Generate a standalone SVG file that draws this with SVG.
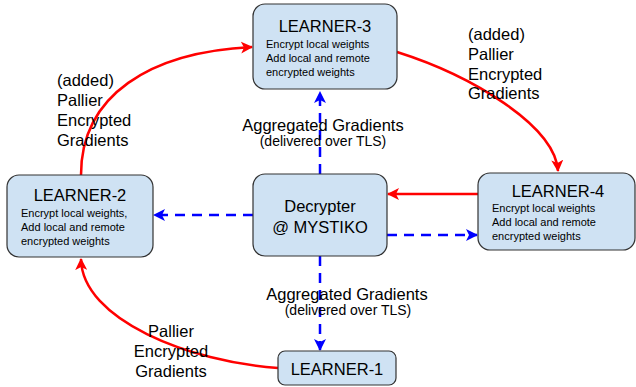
<svg xmlns="http://www.w3.org/2000/svg" width="636" height="387" viewBox="0 0 636 387">
<defs>
<style>
.box{fill:#cfe2f3;stroke:#333;stroke-width:1.2}
.t{font-family:"Liberation Sans",Arial,sans-serif;fill:#000}
.title{font-size:16.5px;text-anchor:middle}
.sub{font-size:11px}
.lbl{font-size:16.5px}
.small{font-size:14px}
.red{fill:none;stroke:#ff0000;stroke-width:2.5}
.blue{fill:none;stroke:#0000ff;stroke-width:2.5;stroke-dasharray:10,7}
</style>
<marker id="ar" viewBox="0 0 12 12" refX="11" refY="6" markerWidth="12" markerHeight="12" markerUnits="userSpaceOnUse" orient="auto">
<path d="M0,0 L12,6 L0,12 L3,6 Z" fill="#ff0000"/>
</marker>
<marker id="ab" viewBox="0 0 12 12" refX="11" refY="6" markerWidth="12" markerHeight="12" markerUnits="userSpaceOnUse" orient="auto">
<path d="M0,0 L12,6 L0,12 L3,6 Z" fill="#0000ff"/>
</marker>
</defs>
<rect width="636" height="387" fill="#fff"/>
<g id="connectors">
<path class="red" d="M81,175 C81,95 150,52 252,47" marker-end="url(#ar)"/>
<path class="red" d="M397,52 C470,75 555,125 558,171" marker-end="url(#ar)"/>
<path class="red" d="M278,368 C190,362 82,320 81,259" marker-end="url(#ar)"/>
<path class="red" d="M478,194 L388,194" marker-end="url(#ar)"/>
<path class="blue" d="M320,174 L320,92" marker-end="url(#ab)"/>
<path class="blue" d="M253,215 L154,215" marker-end="url(#ab)"/>
<path class="blue" d="M387,235 L477,235" marker-end="url(#ab)"/>
<path class="blue" d="M320,256 L320,350" marker-end="url(#ab)"/>
</g>
<g id="labels">
<text class="t lbl" x="57" y="86">(added)</text>
<text class="t lbl" x="57" y="106">Pallier</text>
<text class="t lbl" x="57" y="126">Encrypted</text>
<text class="t lbl" x="57" y="146">Gradients</text>
<text class="t lbl" x="468" y="40">(added)</text>
<text class="t lbl" x="468" y="60">Pallier</text>
<text class="t lbl" x="468" y="80">Encrypted</text>
<text class="t lbl" x="468" y="99">Gradients</text>
<text class="t lbl" x="171" y="337" text-anchor="middle">Pallier</text>
<text class="t lbl" x="171" y="357" text-anchor="middle">Encrypted</text>
<text class="t lbl" x="171" y="377" text-anchor="middle">Gradients</text>
<text class="t lbl" x="323" y="131" text-anchor="middle">Aggregated Gradients</text>
<text class="t small" x="323" y="146" text-anchor="middle">(delivered over TLS)</text>
<text class="t lbl" x="347" y="300" text-anchor="middle">Aggregated Gradients</text>
<text class="t small" x="348" y="315" text-anchor="middle">(delivered over TLS)</text>
</g>
<g id="learner3">
<rect class="box" x="253" y="4" width="144" height="85" rx="12"/>
<text class="t title" x="325" y="32">LEARNER-3</text>
<text class="t sub" x="266" y="48">Encrypt local weights</text>
<text class="t sub" x="266" y="62">Add local and remote</text>
<text class="t sub" x="266" y="76">encrypted weights</text>
</g>
<g id="learner2">
<rect class="box" x="7" y="175" width="146" height="82" rx="12"/>
<text class="t title" x="80" y="201">LEARNER-2</text>
<text class="t sub" x="21" y="217">Encrypt local weights,</text>
<text class="t sub" x="21" y="231">Add local and remote</text>
<text class="t sub" x="21" y="245">encrypted weights</text>
</g>
<g id="learner4">
<rect class="box" x="478" y="173" width="157" height="77" rx="12"/>
<text class="t title" x="558" y="197">LEARNER-4</text>
<text class="t sub" x="492" y="212">Encrypt local weights</text>
<text class="t sub" x="492" y="226">Add local and remote</text>
<text class="t sub" x="492" y="240">encrypted weights</text>
</g>
<g id="decrypter">
<rect class="box" x="253" y="174" width="134" height="82" rx="12"/>
<text class="t title" x="320" y="212">Decrypter</text>
<text class="t title" x="320" y="233">@ MYSTIKO</text>
</g>
<g id="learner1">
<rect class="box" x="278" y="351" width="118" height="34" rx="7"/>
<text class="t title" x="337" y="375">LEARNER-1</text>
</g>
</svg>
